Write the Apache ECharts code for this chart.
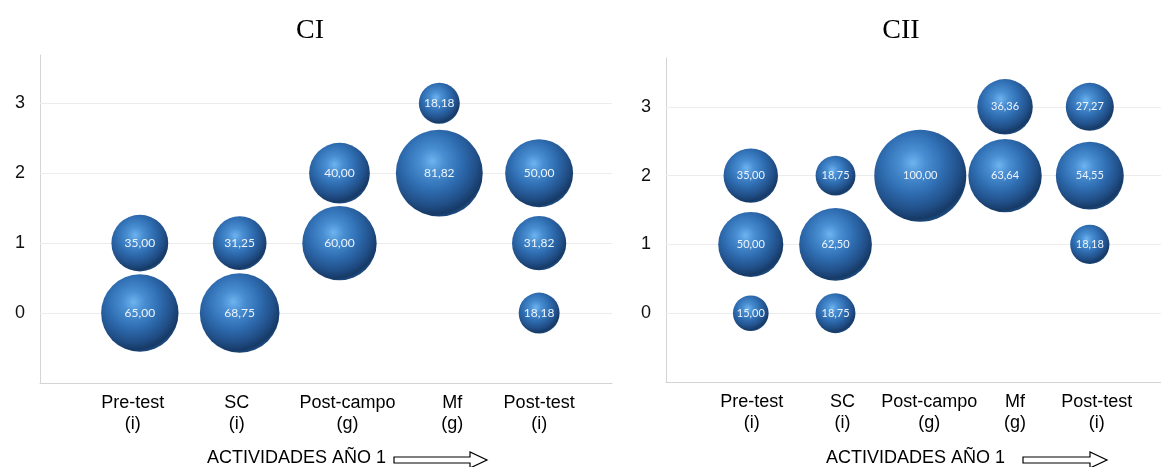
<!DOCTYPE html>
<html>
<head>
<meta charset="utf-8">
<script src="https://cdn.jsdelivr.net/npm/echarts@6/dist/echarts.min.js"></script>
<style>
html,body{margin:0;padding:0;background:#fff;}
#main{width:1161px;height:467px;}
</style>
</head>
<body>
<div id="main"></div>
<script>
// ---------- DATA ----------
const categories = ['Pre-test\n(i)', 'SC\n(i)', 'Post-campo\n(g)', 'Mf\n(g)', 'Post-test\n(i)'];
const yTicks = [0, 1, 2, 3];
const titles = ['CI', 'CII'];
const xTitle = 'ACTIVIDADES AÑO 1';

// CI panel
const ciX    = [1, 1, 2, 2, 3, 3, 4, 4, 5, 5, 5];
const ciY    = [0, 1, 0, 1, 1, 2, 2, 3, 0, 1, 2];
const ciSize = [65.00, 35.00, 68.75, 31.25, 60.00, 40.00, 81.82, 18.18, 18.18, 31.82, 50.00];

// CII panel
const ciiX    = [1, 1, 1, 2, 2, 2, 3, 4, 4, 5, 5, 5];
const ciiY    = [0, 1, 2, 0, 1, 2, 2, 2, 3, 1, 2, 3];
const ciiSize = [15.00, 50.00, 35.00, 18.75, 62.50, 18.75, 100.00, 63.64, 36.36, 18.18, 54.55, 27.27];

// ---------- STYLE / LAYOUT ----------
const FONT = "'Liberation Sans', Arial, sans-serif";
const labelShift = [[-7, -3, 8, 13, 0], [1, 7, 9, 10, 7]];

function richFor(panel) {
  const r = {};
  labelShift[panel].forEach((d, i) => {
    r['p' + i] = {
      fontFamily: FONT, fontSize: 18, color: '#000', lineHeight: 21,
      padding: d < 0 ? [0, -2 * d, 0, 0] : [0, 0, 0, 2 * d]
    };
  });
  return r;
}
function xFormatter(v) {
  const i = Math.round(v);
  if (Math.abs(v - i) > 1e-6 || i < 1 || i > categories.length) return '';
  return categories[i - 1].split('\n').map(s => '{p' + (i - 1) + '|' + s + '}').join('\n');
}
function yFormatter(v) {
  const i = Math.round(v);
  return (Math.abs(v - i) < 1e-6 && yTicks.indexOf(i) >= 0) ? String(i) : '';
}
const sphere = {
  type: 'radial', x: 0.42, y: 0.36, r: 0.68,
  colorStops: [
    { offset: 0, color: '#6db4f0' },
    { offset: 0.2, color: '#4a8fd3' },
    { offset: 0.5, color: '#2e6cb0' },
    { offset: 0.75, color: '#214f88' },
    { offset: 0.9, color: '#163a66' },
    { offset: 1, color: '#23568f' }
  ]
};
function fmtVal(v) { return v.toFixed(2).replace('.', ','); }

function xAxisFor(panel, max) {
  return {
    gridIndex: panel, type: 'value', min: 0, max: max, interval: 1,
    splitLine: { show: false },
    axisLine: { show: true, onZero: false, lineStyle: { color: '#d4d4d4', width: 1 } },
    axisTick: { show: false },
    axisLabel: { formatter: xFormatter, rich: richFor(panel), margin: 10, showMaxLabel: false, hideOverlap: false }
  };
}
function yAxisFor(panel, max) {
  return {
    gridIndex: panel, type: 'value', min: -1, max: max, interval: 1,
    splitLine: { show: false },
    axisLine: { show: true, onZero: false, lineStyle: { color: '#d4d4d4', width: 1 } },
    axisTick: { show: false },
    axisLabel: { formatter: yFormatter, fontFamily: FONT, fontSize: 18, color: '#111', margin: 15, showMaxLabel: false }
  };
}
function gridSeries(panel) {
  return {
    type: 'scatter', xAxisIndex: panel, yAxisIndex: panel, data: [], z: 1, silent: true,
    markLine: {
      silent: true, symbol: 'none', animation: false, z: 1,
      label: { show: false },
      lineStyle: { color: '#ececec', type: 'solid', width: 1 },
      data: yTicks.map(t => ({ yAxis: t }))
    }
  };
}
function bubbleSeries(panel, xs, ys, sizes, k, fs) {
  return {
    type: 'scatter', xAxisIndex: panel, yAxisIndex: panel, z: 10, silent: true,
    data: xs.map((x, i) => [x, ys[i], sizes[i]]),
    symbolSize: d => k * Math.sqrt(d[2]),
    itemStyle: { color: sphere, opacity: 1 },
    label: {
      show: true, position: 'inside', color: '#eef4fb',
      fontFamily: "Lato, 'Liberation Sans', sans-serif", fontSize: fs,
      formatter: p => fmtVal(p.value[2])
    },
    emphasis: { disabled: true },
    animation: false
  };
}
function arrow(x0, x1, yc) {
  const hx = x1 - 17;
  return {
    type: 'polygon',
    shape: { points: [[x0, yc - 3], [hx, yc - 3], [hx, yc - 8], [x1, yc], [hx, yc + 8], [hx, yc + 3], [x0, yc + 3]] },
    style: { fill: '#fff', stroke: '#000', lineWidth: 1.2 }
  };
}

const chart = echarts.init(document.getElementById('main'));
chart.setOption({
  animation: false,
  backgroundColor: '#fff',
  title: [
    { text: titles[0], left: 305, top: 12, textAlign: 'center',
      textStyle: { fontFamily: "'Liberation Serif', 'Times New Roman', serif", fontSize: 28, fontWeight: 'normal', color: '#000' } },
    { text: titles[1], left: 896, top: 12, textAlign: 'center',
      textStyle: { fontFamily: "'Liberation Serif', 'Times New Roman', serif", fontSize: 28, fontWeight: 'normal', color: '#000' } }
  ],
  grid: [
    { left: 40, right: 549, top: 55, bottom: 84 },
    { left: 666, right: 0, top: 58, bottom: 85 }
  ],
  xAxis: [xAxisFor(0, 5.73), xAxisFor(1, 5.84)],
  yAxis: [yAxisFor(0, 3.69), yAxisFor(1, 3.71)],
  series: [
    gridSeries(0), gridSeries(1),
    bubbleSeries(0, ciX, ciY, ciSize, 9.6, 12),
    bubbleSeries(1, ciiX, ciiY, ciiSize, 9.2, 11)
  ],
  graphic: [
    { type: 'text', left: 207, top: 449, style: { text: xTitle, font: '18px ' + FONT, fill: '#000' } },
    { type: 'text', left: 826, top: 449, style: { text: xTitle, font: '18px ' + FONT, fill: '#000' } },
    arrow(394, 487, 460),
    arrow(1023, 1107, 460)
  ]
});
</script>
</body>
</html>
